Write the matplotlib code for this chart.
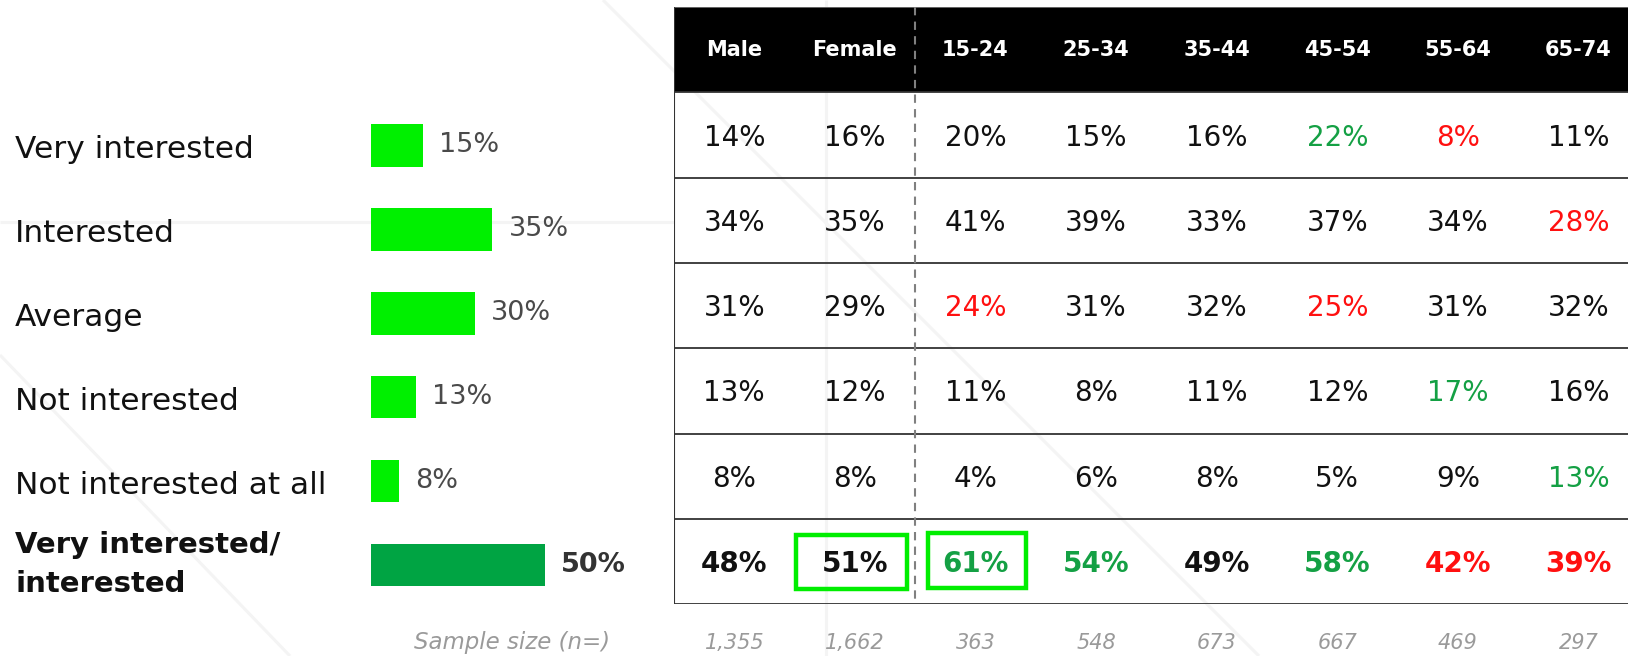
import matplotlib
matplotlib.use("Agg")
import matplotlib.pyplot as plt
from matplotlib.patches import Rectangle
from matplotlib.transforms import blended_transform_factory

# ---------------- data ----------------
categories = ["Very interested", "Interested", "Average", "Not interested",
              "Not interested at all", "Very interested/\ninterested"]
overall = [15, 35, 30, 13, 8, 50]

columns = ["Male", "Female", "15-24", "25-34", "35-44", "45-54", "55-64", "65-74"]
row_very = [14, 16, 20, 15, 16, 22, 8, 11]
row_interested = [34, 35, 41, 39, 33, 37, 34, 28]
row_average = [31, 29, 24, 31, 32, 25, 31, 32]
row_not = [13, 12, 11, 8, 11, 12, 17, 16]
row_not_all = [8, 8, 4, 6, 8, 5, 9, 13]
row_top2 = [48, 51, 61, 54, 49, 58, 42, 39]

# significance flags: 'g' higher (green), 'r' lower (red), '' none
flag_very = ["", "", "", "", "", "g", "r", ""]
flag_interested = ["", "", "", "", "", "", "", "r"]
flag_average = ["", "", "r", "", "", "r", "", ""]
flag_not = ["", "", "", "", "", "", "g", ""]
flag_not_all = ["", "", "", "", "", "", "", "g"]
flag_top2 = ["", "", "g", "g", "", "g", "r", "r"]

sample_sizes = ["1,355", "1,662", "363", "548", "673", "667", "469", "297"]
highlight_cells = [(5, 1), (5, 2)]  # (row, col) boxed cells

# ---------------- style ----------------
W, H = 1628, 656
FONT = "DejaVu Sans"
BAR_LIGHT = "#00f000"
BAR_DARK = "#00a443"
GREEN_TXT = "#14a044"
RED_TXT = "#ff1010"
BOX_COL = "#00ee00"
box_geom = {1: (0.01, 0.92, 6.19, 0.63), 2: (0.11, 0.81, 6.17, 0.64)}

plt.rcParams["font.family"] = [FONT]
fig = plt.figure(figsize=(W / 100, H / 100), dpi=100)
fig.patch.set_facecolor("white")


def add_axes_px(left, top, width, height, **kw):
    return fig.add_axes([left / W, 1 - (top + height) / H, width / W, height / H], **kw)


# background watermark lines
bg = add_axes_px(0, 0, W, H)
bg.set_xlim(0, W)
bg.set_ylim(H, 0)
bg.axis("off")
wm = dict(color="#f4f4f4", lw=2.2, solid_capstyle="butt", zorder=0)
bg.plot([603, 1259], [0, 656], **wm)
bg.plot([0, 674], [222, 222], **wm)
bg.plot([0, 290], [355, 656], **wm)
bg.plot([826, 826], [0, 656], **wm)

# ---------------- left bar chart ----------------
row_sp = 83.9
bar_ax = add_axes_px(371, 145.4 - 0.5 * row_sp, 60 * 3.47, 6 * row_sp)
bar_ax.set_xlim(0, 60)
bar_ax.set_ylim(5.5, -0.5)
bar_ax.axis("off")
bar_ax.patch.set_alpha(0)
ypos = list(range(len(categories)))
colors = [BAR_LIGHT] * 5 + [BAR_DARK]
bar_ax.barh(ypos, overall, height=0.51, color=colors)
lab_tr = blended_transform_factory(fig.transFigure, bar_ax.transData)
for i, (cat, v) in enumerate(zip(categories, overall)):
    bold = i == len(categories) - 1
    bar_ax.text(15 / W, i + (0.0 if bold else 0.05), cat, transform=lab_tr,
                ha="left", va="center",
                fontsize=21 if bold else 22.5, color="#111111",
                fontweight="bold" if bold else "normal",
                linespacing=1.5)
    bar_ax.annotate(f"{v}%", xy=(v, i), xytext=(11.5, 0), textcoords="offset points",
                    ha="left", va="center", fontsize=19.5,
                    color="#333333" if bold else "#4a4a4a",
                    fontweight="bold" if bold else "normal")

# ---------------- right table ----------------
col_w = 120.6
row_h = 85.3
tab = add_axes_px(674, 7, 8 * col_w, 7 * row_h)
tab.set_xlim(0, 8)
tab.set_ylim(7, 0)
tab.axis("off")
tab.patch.set_alpha(0)

tab.add_patch(Rectangle((0, 0), 8, 1, facecolor="black", edgecolor="none", zorder=1))
tab.hlines([0], 0, 8, colors="#777777", lw=1.2, zorder=2)
tab.hlines([1, 2, 3, 4, 5, 6, 7], 0, 8, colors="#333333", lw=1.3, zorder=2)
tab.vlines([0], 0, 7, colors="#333333", lw=1.5, zorder=2)
tab.vlines([2], 0, 7, colors="#808080", lw=1.5, linestyles=(0, (4, 3)), zorder=3)

for j, c in enumerate(columns):
    tab.text(j + 0.5, 0.5, c, ha="center", va="center", color="white",
             fontsize=15, fontweight="bold", zorder=4)

rows = [row_very, row_interested, row_average, row_not, row_not_all, row_top2]
flags = [flag_very, flag_interested, flag_average, flag_not, flag_not_all, flag_top2]
cmap = {"": "#111111", "g": GREEN_TXT, "r": RED_TXT}
for r, (vals, fl) in enumerate(zip(rows, flags)):
    bold = r == len(rows) - 1
    for j, (v, f) in enumerate(zip(vals, fl)):
        tab.text(j + 0.5, r + 1.53, f"{v}%", ha="center", va="center",
                 color=cmap[f], fontsize=20,
                 fontweight="bold" if bold else "normal", zorder=4)

for (r, j) in highlight_cells:
    dx, w, y0, h = box_geom[j]
    tab.add_patch(Rectangle((j + dx, y0), w, h, facecolor="none",
                            edgecolor=BOX_COL, lw=3.2, zorder=5))

samp_y = (643 - 7) / row_h
for j, s in enumerate(sample_sizes):
    tab.text(j + 0.5, samp_y, s, ha="center", va="center", color="#9a9a9a",
             fontsize=15, fontstyle="italic", clip_on=False)
tab.text((610 - 674) / col_w, samp_y, "Sample size (n=)", ha="right", va="center",
         color="#9a9a9a", fontsize=16.5, fontstyle="italic", clip_on=False)

fig.savefig("out.png", dpi=100, facecolor="white")
